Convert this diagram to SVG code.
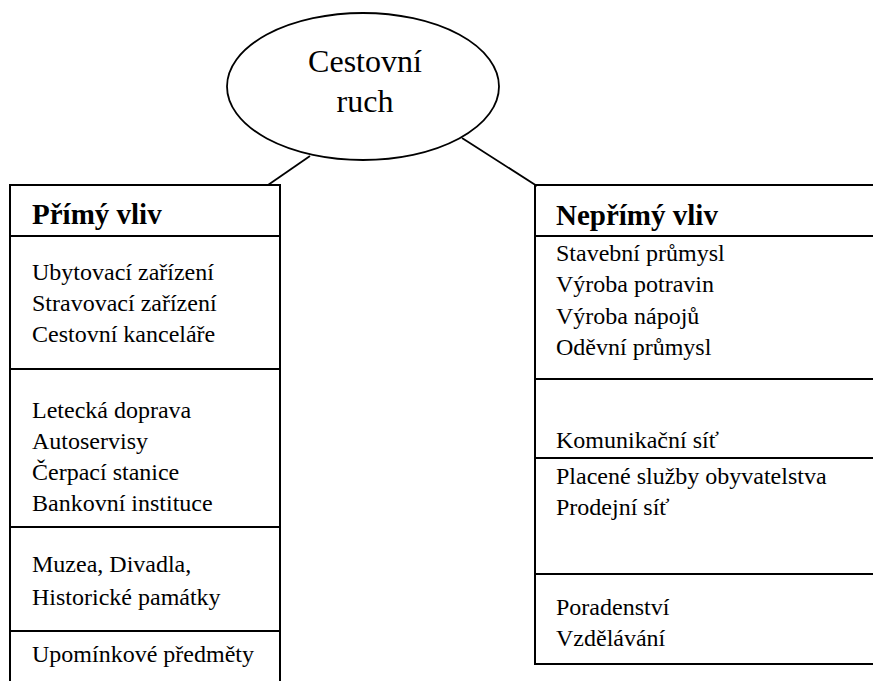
<svg xmlns="http://www.w3.org/2000/svg" width="873" height="681" viewBox="0 0 873 681" font-family="Liberation Serif, serif">
<style>
.t{font-size:24px}
.h{font-size:29px;font-weight:bold}
.c{font-size:32px;text-anchor:middle}
.box{fill:none;stroke:#000;stroke-width:2}
.div{stroke:#000;stroke-width:2}
.con{stroke:#000;stroke-width:1.8;fill:none}
</style>
<rect width="873" height="681" fill="#fff"/>
<g id="connectors">
<line class="con" x1="310" y1="156" x2="268" y2="185"/>
<line class="con" x1="462" y1="138" x2="537" y2="186"/>
</g>
<g id="cestovni-ruch">
<ellipse cx="363" cy="86.5" rx="136" ry="73.5" fill="#fff" stroke="#000" stroke-width="1.8"/>
<text class="c" x="365" y="72">Cestovní</text>
<text class="c" x="365" y="112">ruch</text>
</g>
<g id="primy-vliv">
<path class="box" d="M10 690 V185 H280 V690"/>
<line class="div" x1="10" y1="236" x2="280" y2="236"/>
<line class="div" x1="10" y1="369" x2="280" y2="369"/>
<line class="div" x1="10" y1="527" x2="280" y2="527"/>
<line class="div" x1="10" y1="631" x2="280" y2="631"/>
<text class="h" x="32" y="224">Přímý vliv</text>
<text class="t" x="32" y="280">Ubytovací zařízení</text>
<text class="t" x="32" y="311">Stravovací zařízení</text>
<text class="t" x="32" y="342">Cestovní kanceláře</text>
<text class="t" x="32" y="418">Letecká doprava</text>
<text class="t" x="32" y="449">Autoservisy</text>
<text class="t" x="32" y="480">Čerpací stanice</text>
<text class="t" x="32" y="511">Bankovní instituce</text>
<text class="t" x="32" y="572">Muzea, Divadla,</text>
<text class="t" x="32" y="605">Historické památky</text>
<text class="t" x="32" y="662">Upomínkové předměty</text>
</g>
<g id="neprimy-vliv">
<path class="box" d="M890 185 H535 V664 H890"/>
<line class="div" x1="535" y1="236" x2="890" y2="236"/>
<line class="div" x1="535" y1="379" x2="890" y2="379"/>
<line class="div" x1="535" y1="458" x2="890" y2="458"/>
<line class="div" x1="535" y1="574" x2="890" y2="574"/>
<text class="h" x="556" y="225">Nepřímý vliv</text>
<text class="t" x="556" y="261">Stavební průmysl</text>
<text class="t" x="556" y="292">Výroba potravin</text>
<text class="t" x="556" y="324">Výroba nápojů</text>
<text class="t" x="556" y="355">Oděvní průmysl</text>
<text class="t" x="556" y="448">Komunikační síť</text>
<text class="t" x="556" y="484">Placené služby obyvatelstva</text>
<text class="t" x="556" y="515">Prodejní síť</text>
<text class="t" x="556" y="615">Poradenství</text>
<text class="t" x="556" y="646">Vzdělávání</text>
</g>
</svg>
